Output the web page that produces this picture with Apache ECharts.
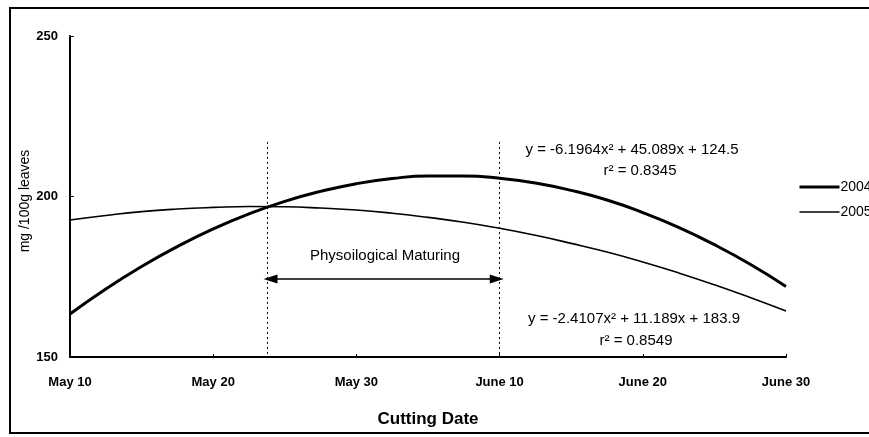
<!DOCTYPE html>
<html>
<head>
    <meta charset="UTF-8">
    <title>Cutting Date</title>
    <script src="https://cdn.jsdelivr.net/npm/echarts@6/dist/echarts.min.js"></script>
    <style>
        html, body { margin: 0; padding: 0; background: #fff; }
    </style>
</head>
<body>
<div id="main" style="width: 869px;height:437px;"></div>

<script type="text/javascript">
    // tick labels along x (positions 1..6)
    var dateLabels = ['May 10', 'May 20', 'May 30', 'June 10', 'June 20', 'June 30'];
    // sample positions
    var xPos = [1, 1.25, 1.5, 1.75, 2, 2.25, 2.5, 2.75, 3, 3.25, 3.5, 3.75, 4, 4.25, 4.5, 4.75, 5, 5.25, 5.5, 5.75, 6];
    var y2004 = [163.4, 171.2, 178.2, 184.4, 189.9, 194.6, 198.5, 201.6, 204.0, 205.6, 206.4, 206.4, 205.7, 204.2, 201.9, 198.9, 195.0, 190.4, 185.0, 178.9, 172.0];
    var y2005 = [192.7, 194.1, 195.3, 196.1, 196.6, 196.9, 196.8, 196.4, 195.8, 194.8, 193.5, 192.0, 190.1, 187.9, 185.4, 182.7, 179.6, 176.2, 172.5, 168.5, 164.3];
    var seriesNames = ['2004', '2005'];
    // maturing window edges and arrow level
    var maturingFrom = 2.38, maturingTo = 4.0;
    var arrowLevel = 174.3, dashTop = 217;

    function pairs(ys) {
        return xPos.map(function (x, i) { return [x, ys[i]]; });
    }

    var myChart = echarts.init(document.getElementById('main'));
    var fontFam = '"Liberation Sans", Arial, sans-serif';

    function txt(s, x, y, size) {
        return {
            type: 'text', x: x, y: y, silent: true,
            style: { text: s, fill: '#000', font: size + 'px "Liberation Sans", Arial, sans-serif', textAlign: 'center', textVerticalAlign: 'middle' }
        };
    }

    var yTitle = txt('mg /100g leaves', 25, 201, 14);
    yTitle.rotation = Math.PI / 2;

    var option = {
        animation: false,
        backgroundColor: '#fff',
        grid: { left: 70, right: 83, top: 36, bottom: 80 },
        legend: {
            orient: 'vertical',
            left: 793,
            top: 175,
            itemWidth: 40,
            itemHeight: 10,
            itemGap: 11,
            itemStyle: { opacity: 0 },
            textStyle: { color: '#000', fontFamily: fontFam, fontSize: 14, padding: [0, 0, 0, -4] },
            data: [
                { name: seriesNames[0], lineStyle: { width: 3 } },
                { name: seriesNames[1], lineStyle: { width: 1.5 } }
            ]
        },
        xAxis: {
            type: 'value',
            min: 1, max: 6, interval: 1,
            splitLine: { show: false },
            axisLine: { lineStyle: { color: '#000', width: 2 } },
            axisTick: { show: true, inside: true, length: 3, lineStyle: { color: '#000' } },
            axisLabel: {
                color: '#000', fontFamily: fontFam, fontSize: 13, fontWeight: 'bold', margin: 19,
                formatter: function (v) { return dateLabels[Math.round(v) - 1] || ''; }
            },
            name: 'Cutting Date',
            nameLocation: 'middle',
            nameGap: 54,
            nameTextStyle: { color: '#000', fontFamily: fontFam, fontSize: 17, fontWeight: 'bold' }
        },
        yAxis: {
            type: 'value',
            min: 150, max: 250, interval: 50,
            splitLine: { show: false },
            axisLine: { show: true, lineStyle: { color: '#000', width: 2 } },
            axisTick: { show: true, inside: true, length: 4, lineStyle: { color: '#000' } },
            axisLabel: { color: '#000', fontFamily: fontFam, fontSize: 13, fontWeight: 'bold', margin: 12 }
        },
        series: [
            {
                name: '2004',
                type: 'line',
                symbol: 'none',
                smooth: true,
                lineStyle: { color: '#000', width: 3 },
                itemStyle: { color: '#000' },
                data: pairs(y2004),
                markLine: {
                    silent: true,
                    symbol: 'none',
                    label: { show: false },
                    lineStyle: { color: '#000', type: [2, 3], width: 1 },
                    data: [
                        [{ coord: [maturingFrom, dashTop] }, { coord: [maturingFrom, 150] }],
                        [{ coord: [maturingTo, dashTop] }, { coord: [maturingTo, 150] }]
                    ]
                }
            },
            {
                name: '2005',
                type: 'line',
                symbol: 'none',
                smooth: true,
                lineStyle: { color: '#000', width: 1.6 },
                itemStyle: { color: '#000' },
                data: pairs(y2005),
                markLine: {
                    silent: true,
                    symbol: ['triangle', 'triangle'],
                    symbolSize: [9, 14],
                    label: { show: false },
                    lineStyle: { color: '#000', type: 'solid', width: 1.5 },
                    data: [
                        [{ coord: [maturingFrom + 0.02, arrowLevel], symbolRotate: 90 },
                         { coord: [maturingTo - 0.02, arrowLevel], symbolRotate: -90 }]
                    ]
                }
            }
        ],
        graphic: [
            {
                type: 'rect', silent: true, z: -1,
                shape: { x: 10, y: 8, width: 900, height: 425 },
                style: { fill: 'none', stroke: '#000', lineWidth: 2 }
            },
            yTitle,
            txt('Physoilogical Maturing', 385, 256, 15),
            txt('y = -6.1964x² + 45.089x + 124.5', 632, 150, 15),
            txt('r² = 0.8345', 640, 171, 15),
            txt('y = -2.4107x² + 11.189x + 183.9', 634, 319, 15),
            txt('r² = 0.8549', 636, 341, 15)
        ]
    };

    myChart.setOption(option);
</script>
</body>
</html>
